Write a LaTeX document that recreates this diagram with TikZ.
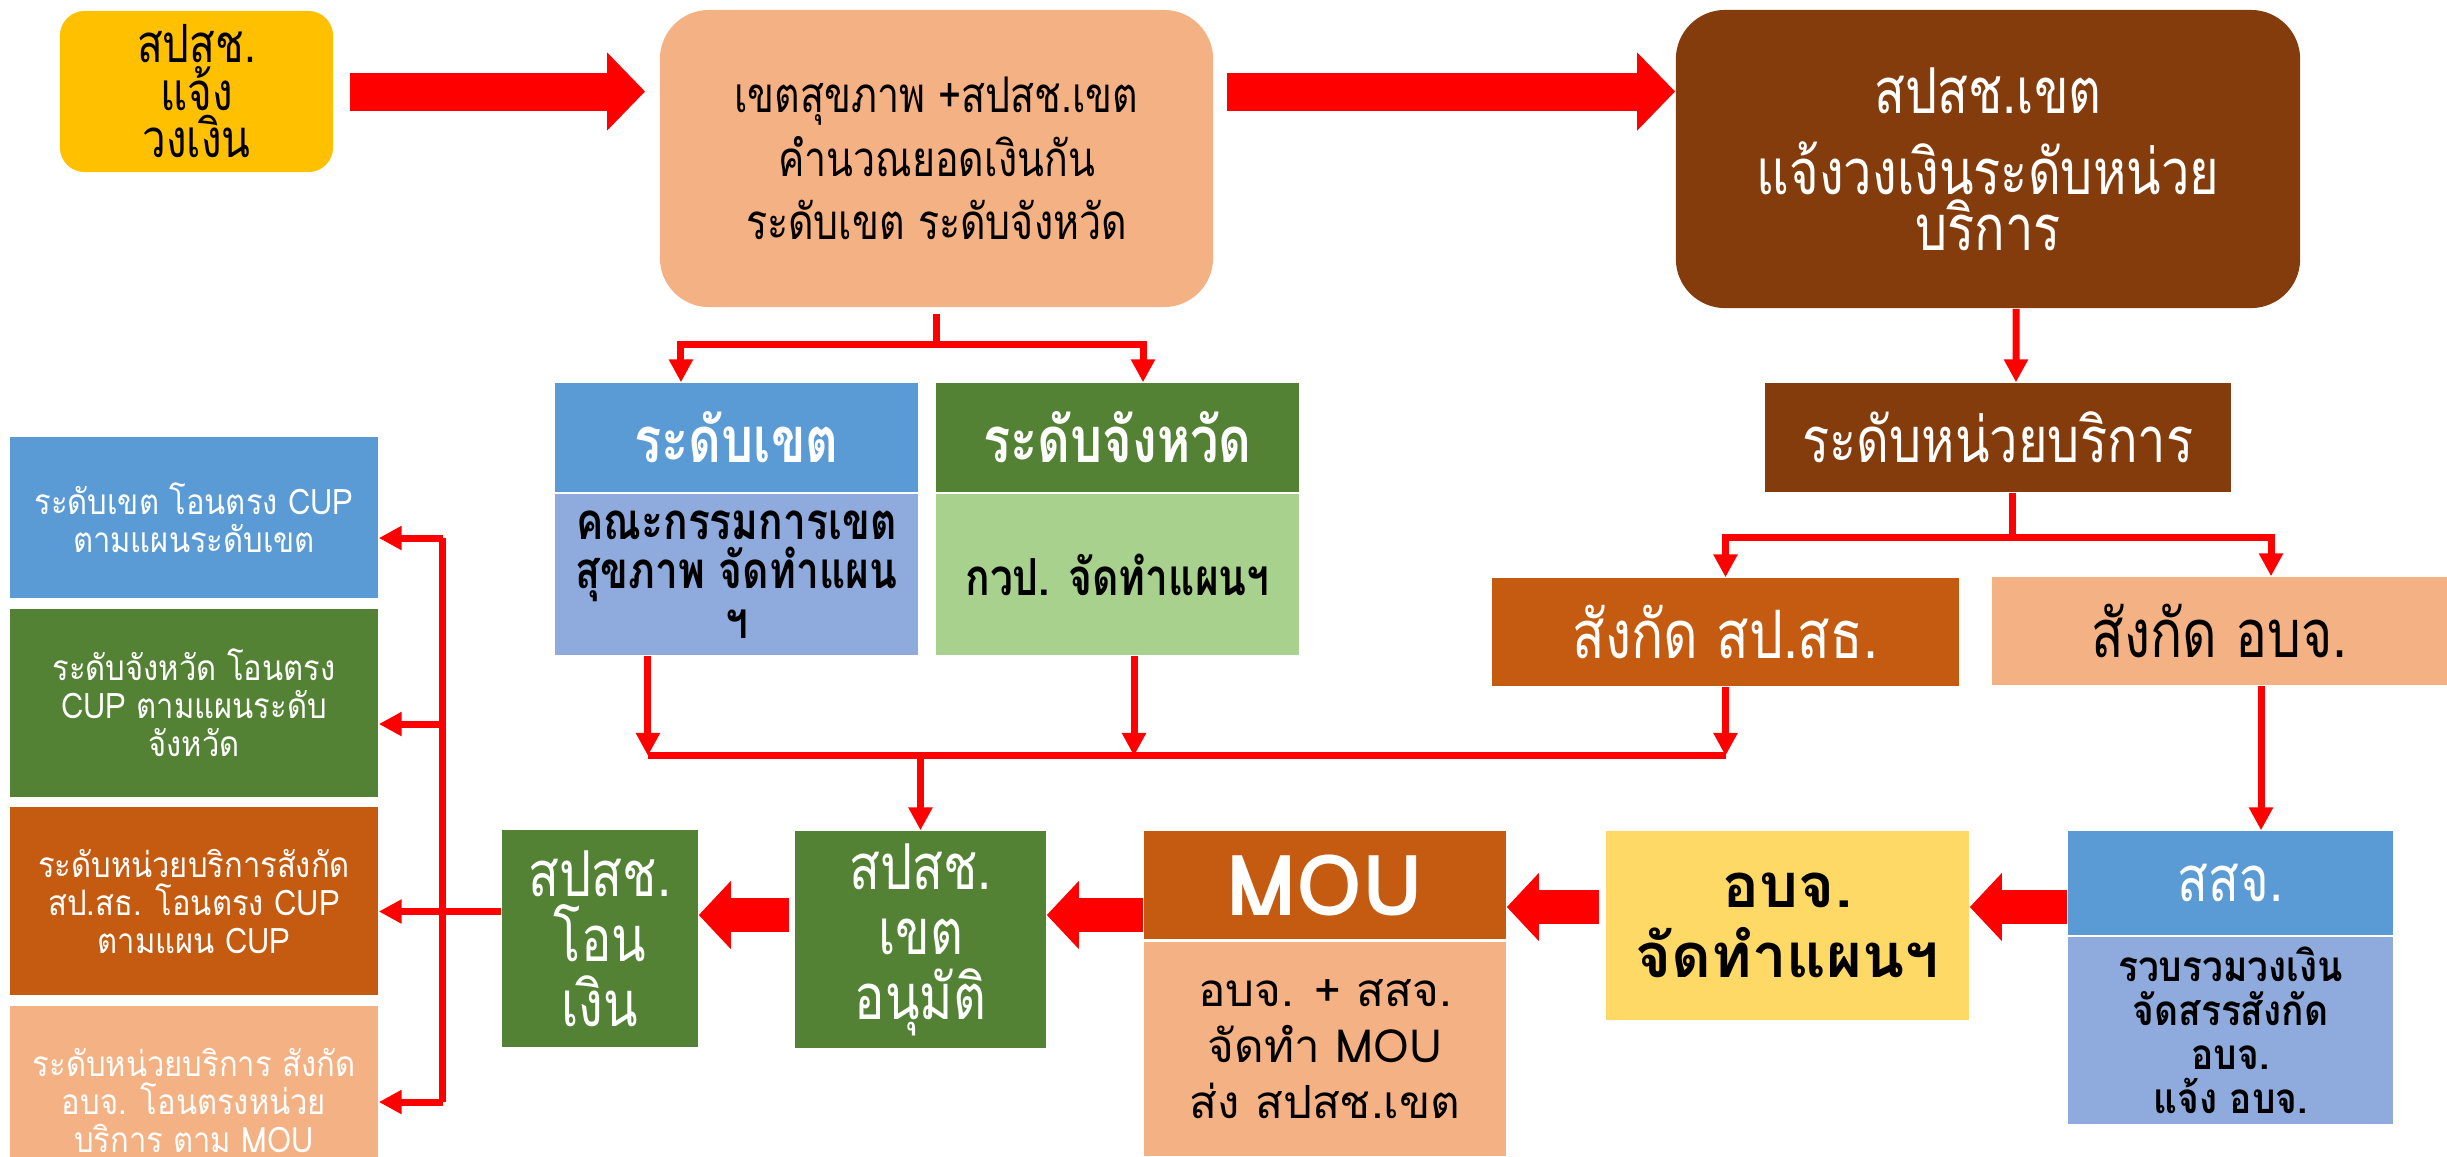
\documentclass[tikz,border=0pt]{standalone}
\usepackage{fontspec}
\setmainfont[Script=Thai]{Loma}
\newfontfamily\cond[Script=Thai,FakeStretch=0.8]{Loma}
\newfontfamily\narrow[Script=Thai,FakeStretch=0.88]{Loma}
\usetikzlibrary{arrows.meta}
\definecolor{gold}{HTML}{FFC000}
\definecolor{peach}{HTML}{F4B183}
\definecolor{rust}{HTML}{843C0C}
\definecolor{sky}{HTML}{5B9BD5}
\definecolor{leaf}{HTML}{548235}
\definecolor{paleblue}{HTML}{8FAADC}
\definecolor{palegreen}{HTML}{A9D18E}
\definecolor{amber}{HTML}{C55A11}
\definecolor{butter}{HTML}{FFD966}
\begin{document}
\begin{tikzpicture}[x=0.01cm, y=-0.01cm,
    box/.style = {rectangle, inner sep=0pt, align=center},
    flow/.style = {red, line width=2pt, -{Triangle[length=6.5pt,width=6.5pt]}},
    link/.style = {red, line width=2pt},
    bigarrow/.style = {red, line width=10.8pt, -{Triangle[length=10.8pt,width=21.6pt]}},
    midarrow/.style = {red, line width=9.4pt, -{Triangle[length=9.1pt,width=18.8pt]}}]
  \useasboundingbox (0,0) rectangle (2447,1156);
  % top row
  \node [box, fill=gold, rounded corners=7pt, minimum width=2.73cm, minimum height=1.61cm,
    font=\cond\fontsize{15}{13.5}\selectfont] (notify) at (196.5,91.5) {สปสช.\\แจ้ง\\วงเงิน};
  \node [box, fill=peach, rounded corners=14pt, minimum width=5.53cm, minimum height=2.97cm,
    font=\cond\fontsize{14}{18}\selectfont] (calc) at (936.5,158.5)
    {เขตสุขภาพ +สปสช.เขต\\คำนวณยอดเงินกัน\\ระดับเขต ระดับจังหวัด};
  \node [box, fill=rust, text=white, rounded corners=14pt, minimum width=6.24cm, minimum height=2.98cm,
    font=\cond\fontsize{18}{16}\selectfont] (regnotify) at (1988,159)
    {สปสช.เขต\\[7pt]แจ้งวงเงินระดับหน่วย\\บริการ};
  \draw [bigarrow, shorten <=4.6pt, shorten >=4pt] (notify.east) -- (notify.east -| calc.west);
  \draw [bigarrow, shorten <=3.7pt] (calc.east |- notify.east) -- (regnotify.west |- notify.east);
  % zone and province plans
  \node [box, fill=sky, text=white, minimum width=3.63cm, minimum height=1.09cm,
    font=\cond\bfseries\fontsize{18}{18}\selectfont] (zonehead) at (736.5,437.5) {ระดับเขต};
  \node [box, fill=paleblue, minimum width=3.63cm, minimum height=1.61cm,
    font=\cond\bfseries\fontsize{14.5}{14}\selectfont] (zonebody) at (736.5,574.5)
    {คณะกรรมการเขต\\สุขภาพ จัดทำแผน\\ฯ};
  \node [box, fill=leaf, text=white, minimum width=3.63cm, minimum height=1.09cm,
    font=\cond\bfseries\fontsize{18}{18}\selectfont] (provhead) at (1117.5,437.5) {ระดับจังหวัด};
  \node [box, fill=palegreen, minimum width=3.63cm, minimum height=1.61cm,
    font=\cond\bfseries\fontsize{14.5}{14}\selectfont] (provbody) at (1117.5,574.5) {กวป. จัดทำแผนฯ};
  \coordinate (zsplit) at ([yshift=-.37cm]calc.south);
  \draw [link, shorten <=1.7pt] (calc.south) -- (zsplit);
  \draw [flow] (zsplit) -| ([xshift=-.555cm]zonehead.north);
  \draw [flow] (zsplit) -| ([xshift=.255cm]provhead.north);
  % service units
  \node [box, fill=rust, text=white, minimum width=4.66cm, minimum height=1.09cm,
    font=\cond\fontsize{18}{18}\selectfont] (unithead) at (1998,437.5) {ระดับหน่วยบริการ};
  \node [box, fill=amber, text=white, minimum width=4.67cm, minimum height=1.08cm,
    font=\cond\fontsize{19}{19}\selectfont] (moph) at (1725.5,632) {สังกัด สป.สธ.};
  \node [box, fill=peach, minimum width=4.55cm, minimum height=1.08cm,
    font=\cond\fontsize{19}{19}\selectfont] (pao) at (2219.5,631) {สังกัด อบจ.};
  \draw [flow] ([xshift=.28cm]regnotify.south) -- ([xshift=.18cm]unithead.north);
  \coordinate (usplit) at ([xshift=.14cm,yshift=-.45cm]unithead.south);
  \draw [link] ([xshift=.14cm]unithead.south) -- (usplit);
  \draw [flow] (usplit) -| (moph.north);
  \draw [flow] (usplit) -| ([xshift=.515cm]pao.north);
  % bottom row
  \node [box, fill=sky, text=white, minimum width=3.25cm, minimum height=1.04cm,
    font=\cond\fontsize{18}{18}\selectfont] (pphohead) at (2230.5,883) {สสจ.};
  \node [box, fill=paleblue, minimum width=3.25cm, minimum height=1.87cm,
    font=\narrow\bfseries\fontsize{12}{12.5}\selectfont] (pphobody) at (2230.5,1030.5)
    {รวบรวมวงเงิน\\จัดสรรสังกัด\\อบจ.\\แจ้ง อบจ.};
  \node [box, fill=butter, minimum width=3.63cm, minimum height=1.89cm,
    font=\bfseries\fontsize{17.5}{20}\selectfont] (paoplan) at (1787.5,925.5) {อบจ.\\จัดทำแผนฯ};
  \node [box, fill=amber, text=white, minimum width=3.62cm, minimum height=1.08cm,
    font=\bfseries\fontsize{24}{24}\selectfont] (mouhead) at (1325,885) {MOU};
  \node [box, fill=peach, minimum width=3.62cm, minimum height=2.14cm,
    font=\fontsize{13}{16}\selectfont] (moubody) at (1325,1049) {อบจ. + สสจ.\\จัดทำ MOU\\ส่ง สปสช.เขต};
  \node [box, fill=leaf, text=white, minimum width=2.51cm, minimum height=2.17cm,
    font=\cond\fontsize{18}{18.5}\selectfont] (approve) at (920.5,939.5) {สปสช.\\เขต\\อนุมัติ};
  \node [box, fill=leaf, text=white, minimum width=1.96cm, minimum height=2.17cm,
    font=\cond\fontsize{18}{18.5}\selectfont] (transfer) at (600,938.5) {สปสช.\\โอน\\เงิน};
  \coordinate (paodrop) at ([xshift=.415cm]pao.south);
  \draw [flow] (paodrop) -- (paodrop |- pphohead.north);
  \coordinate (rowa) at (0,907);
  \coordinate (rowb) at (0,915);
  \draw [midarrow] (pphohead.west |- rowa) -- (paoplan.east |- rowa);
  \draw [midarrow, shorten <=1.7pt] (paoplan.west |- rowa) -- (mouhead.east |- rowa);
  \draw [midarrow] (mouhead.west |- rowb) -- (approve.east |- rowb);
  \draw [midarrow, shorten <=1.4pt] (approve.west |- rowb) -- (transfer.east |- rowb);
  % merge into approval
  \coordinate (zdrop) at ([xshift=-.885cm]zonebody.south);
  \coordinate (pdrop) at ([xshift=.165cm]provbody.south);
  \coordinate (merge) at ([yshift=-1cm]zdrop);
  \draw [flow] (zdrop) -- (zdrop |- merge);
  \draw [flow] (pdrop) -- (pdrop |- merge);
  \draw [flow] (moph.south) -- (moph.south |- merge);
  \draw [link] (merge) -- (merge -| moph.south);
  \draw [flow] (merge -| approve.north) -- (approve.north);
  % transfers
  \node [box, fill=sky, text=white, minimum width=3.68cm, minimum height=1.61cm,
    font=\narrow\fontsize{10}{10.8}\selectfont] (outa) at (194,517.5) {ระดับเขต โอนตรง CUP\\ตามแผนระดับเขต};
  \node [box, fill=leaf, text=white, minimum width=3.68cm, minimum height=1.88cm,
    font=\narrow\fontsize{10}{10.8}\selectfont] (outb) at (194,703) {ระดับจังหวัด โอนตรง\\CUP ตามแผนระดับ\\จังหวัด};
  \node [box, fill=amber, text=white, minimum width=3.68cm, minimum height=1.88cm,
    font=\narrow\fontsize{10}{10.8}\selectfont] (outc) at (194,901) {ระดับหน่วยบริการสังกัด\\สป.สธ. โอนตรง CUP\\ตามแผน CUP};
  \node [box, fill=peach, text=white, minimum width=3.68cm, minimum height=1.88cm,
    font=\narrow\fontsize{10}{10.8}\selectfont] (outd) at (194,1100) {ระดับหน่วยบริการ สังกัด\\อบจ. โอนตรงหน่วย\\บริการ ตาม MOU};
  \coordinate (tw) at ([yshift=.27cm]transfer.west);
  \draw [flow] (tw) -- (tw -| outc.east);
  \coordinate (spinetop) at ([xshift=.64cm,yshift=-.205cm]outa.east);
  \coordinate (spinemid) at ([xshift=.64cm,yshift=-.21cm]outb.east);
  \coordinate (spinebot) at ([xshift=.64cm,yshift=-.02cm]outd.east);
  \draw [link] (spinetop) -- (spinebot);
  \draw [flow] (spinetop) -- (spinetop -| outa.east);
  \draw [flow] (spinemid) -- (spinemid -| outb.east);
  \draw [flow] (spinebot) -- (spinebot -| outd.east);
\end{tikzpicture}
\end{document}
